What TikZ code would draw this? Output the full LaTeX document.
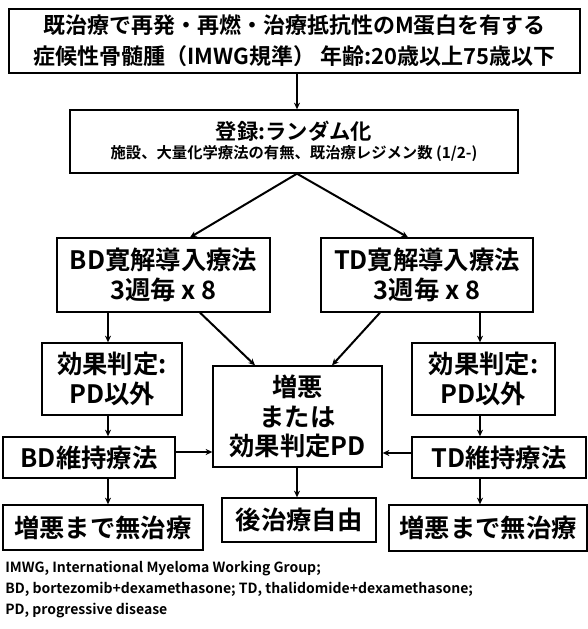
\documentclass[tikz,border=0pt]{standalone}
\usepackage{fontspec}
\setmainfont{Noto Sans CJK JP}[BoldFont=* Bold]
\usetikzlibrary{arrows.meta,calc}
\begin{document}
\begin{tikzpicture}[x=0.75pt,y=-0.75pt,
  box/.style={draw, line width=1pt, inner sep=0pt, align=center},
  big/.style={font=\bfseries\fontsize{19}{23}\selectfont},
  arr/.style={-{Stealth[length=5pt,width=4.5pt]}, line width=1.1pt},
  diag/.style={line width=1.5pt},
  fn/.style={anchor=base west, inner sep=0pt, font=\bfseries\fontsize{10.5}{13}\selectfont}]
\useasboundingbox (0,0) rectangle (588,629);
% nodes
\node[box, minimum width=428.25pt, minimum height=48pt, font=\bfseries\fontsize{16.5}{23}\selectfont] (top) at (294.5,41)
  {既治療で再発・再燃・治療抵抗性のM蛋白を有する\\症候性骨髄腫（IMWG規準）\ 年齢:20歳以上75歳以下};
\node[box, minimum width=336pt, minimum height=47.25pt] (reg) at (294,141.5)
  {{\bfseries\fontsize{16}{18}\selectfont 登録:ランダム化}\\[2pt]{\bfseries\fontsize{11.5}{13}\selectfont 施設、大量化学療法の有無、既治療レジメン数 (1/2-)}};
\node[box, big, minimum width=159.75pt, minimum height=55.5pt] (bd) at (163.5,275) {BD寛解導入療法\\3週毎 x 8};
\node[box, big, minimum width=159pt, minimum height=55.5pt] (td) at (427,275) {TD寛解導入療法\\3週毎 x 8};
\node[box, big, minimum width=105pt, minimum height=54pt] (effl) at (112,379) {効果判定:\\PD以外};
\node[box, big, minimum width=107.25pt, minimum height=54pt] (effr) at (483.5,379) {効果判定:\\PD以外};
\node[box, font=\bfseries\fontsize{19}{22}\selectfont, minimum width=126.75pt, minimum height=75.75pt] (ctr) at (297.5,416.5) {増悪\\または\\効果判定PD};
\node[box, big, minimum width=129pt, minimum height=30.75pt] (ml) at (89,457.5) {BD維持療法};
\node[box, big, minimum width=130.5pt, minimum height=30.75pt] (mr) at (499,457.5) {TD維持療法};
\node[box, big, minimum width=150pt, minimum height=33.75pt] (bl) at (103,527.5) {増悪まで無治療};
\node[box, big, minimum width=115.5pt, minimum height=33pt] (bc) at (299,520) {後治療自由};
\node[box, big, minimum width=148.5pt, minimum height=34.5pt] (br) at (488,528) {増悪まで無治療};
% helper coordinates
\coordinate (xl) at (108,0);
\coordinate (xr) at (480,0);
\coordinate (xc) at (297,0);
\coordinate (bdin) at (190,0);
\coordinate (tdin) at (408,0);
\coordinate (bdout) at (200,0);
\coordinate (tdout) at (380,0);
\coordinate (cinl) at (255,0);
\coordinate (cinr) at (332,0);
\coordinate (yl) at (0,452);
\coordinate (yr) at (0,453);
% connectors
\draw[arr] (top.south -| xc) -- (reg.north -| xc);
\draw[arr, diag] (reg.south -| xc) -- (bd.north -| bdin);
\draw[arr, diag] (reg.south -| xc) -- (td.north -| tdin);
\draw[arr] (bd.south -| xl) -- (effl.north -| xl);
\draw[arr] (effl.south -| xl) -- (ml.north -| xl);
\draw[arr] (ml.south -| xl) -- (bl.north -| xl);
\draw[arr] (td.south -| xr) -- (effr.north -| xr);
\draw[arr] (effr.south -| xr) -- (mr.north -| xr);
\draw[arr] (mr.south -| xr) -- (br.north -| xr);
\draw[arr, diag] (bd.south -| bdout) -- (ctr.north -| cinl);
\draw[arr, diag] (td.south -| tdout) -- (ctr.north -| cinr);
\draw[arr] (ml.east |- yl) -- (ctr.west |- yl);
\draw[arr] (mr.west |- yr) -- (ctr.east |- yr);
\draw[arr] (ctr.south -| xc) -- (bc.north -| xc);
% footnotes
\node[fn] (f1) at (5,572) {IMWG, International Myeloma Working Group;};
\node[fn] (f2) at (5,593) {BD, bortezomib+dexamethasone; TD, thalidomide+dexamethasone;};
\node[fn] (f3) at (5,614) {PD, progressive disease};
\end{tikzpicture}
\end{document}
